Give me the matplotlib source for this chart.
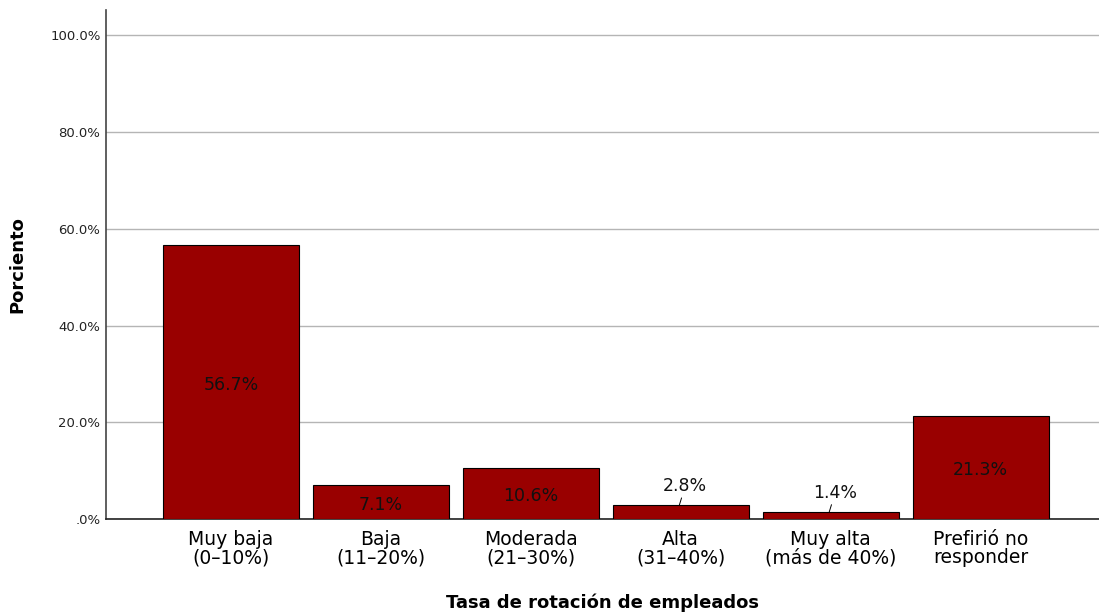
import matplotlib
matplotlib.use("Agg")
import matplotlib.pyplot as plt
import numpy as np

# datos
categorias = ["Muy baja\n(0–10%)", "Baja\n(11–20%)", "Moderada\n(21–30%)",
              "Alta\n(31–40%)", "Muy alta\n(más de 40%)", "Prefirió no\nresponder"]
porcentajes = [56.7, 7.1, 10.6, 2.8, 1.4, 21.3]
etiquetas = ["56.7%", "7.1%", "10.6%", "2.8%", "1.4%", "21.3%"]
yticks = [0, 20, 40, 60, 80, 100]
ytick_labels = [".0%", "20.0%", "40.0%", "60.0%", "80.0%", "100.0%"]

RENK_BAR = "#990000"

fig = plt.figure(figsize=(10.99, 6.13), dpi=100)
ax = fig.add_axes([0.0965, 0.1533, 0.9035, 0.830])

x = np.arange(len(categorias))
bars = ax.bar(x, porcentajes, width=0.907, color=RENK_BAR, edgecolor="black",
              linewidth=0.8, zorder=3)

for bar, val, et in zip(bars, porcentajes, etiquetas):
    cx = bar.get_x() + bar.get_width() / 2
    if val >= 5:
        ax.text(cx, val / 2 - 0.6, et, ha="center", va="center", fontsize=12.5,
                color="#111111", zorder=4)
    else:
        ax.annotate(et, xy=(cx - 0.01, val), xytext=(cx + 0.03, val + 4.0),
                    ha="center", va="center", fontsize=12.5, color="#111111",
                    arrowprops=dict(arrowstyle="-", color="black", lw=0.7,
                                    shrinkA=7, shrinkB=0))

ax.set_xlim(-0.833, 5.79)
ax.set_ylim(0, 105.2)
ax.set_yticks(yticks)
ax.set_yticklabels(ytick_labels, fontsize=9.5, color="#222222")
ax.set_xticks(x)
ax.set_xticklabels(categorias, fontsize=13.5, color="black", linespacing=0.95)
ax.tick_params(axis="x", length=0, pad=8)
ax.tick_params(axis="y", length=0, pad=4)

ax.grid(axis="y", color="#b5b5b5", linewidth=1.0, zorder=0)
ax.spines["top"].set_visible(False)
ax.spines["right"].set_visible(False)
ax.spines["left"].set_color("#444444")
ax.spines["bottom"].set_color("#222222")
ax.spines["left"].set_linewidth(1.2)
ax.spines["bottom"].set_linewidth(1.2)

ax.set_ylabel("Porciento", fontsize=13, fontweight="bold")
ax.yaxis.set_label_coords(-0.08, 0.5)
ax.set_xlabel("Tasa de rotación de empleados", fontsize=13, fontweight="bold")
ax.xaxis.set_label_coords(0.5, -0.147)

plt.savefig("out.png", dpi=100, facecolor="white")
plt.close()
